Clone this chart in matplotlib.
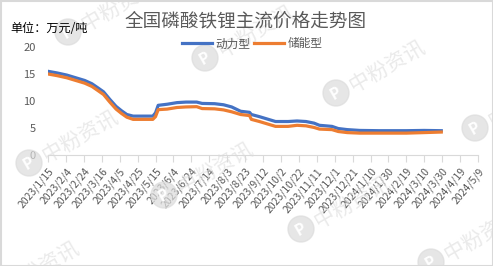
import matplotlib
matplotlib.use('Agg')
import matplotlib.pyplot as plt
from matplotlib.patches import Circle, Rectangle
import pandas as pd

plt.rcParams['font.family'] = ['Noto Sans CJK SC', 'DejaVu Sans']

# price data (万元/吨)
dates = ['2023-01-15', '2023-01-25', '2023-02-05', '2023-02-15', '2023-02-25',
         '2023-03-05', '2023-03-12', '2023-03-18', '2023-03-25', '2023-04-01',
         '2023-04-07', '2023-04-13', '2023-04-20', '2023-05-01', '2023-05-12',
         '2023-05-15', '2023-05-18', '2023-05-28', '2023-06-08', '2023-06-18',
         '2023-06-30', '2023-07-06', '2023-07-20', '2023-07-30', '2023-08-08',
         '2023-08-18', '2023-08-28', '2023-08-30', '2023-09-08', '2023-09-18',
         '2023-09-26', '2023-10-10', '2023-10-20', '2023-10-30', '2023-11-08',
         '2023-11-14', '2023-11-28', '2023-12-05', '2023-12-15', '2023-12-29',
         '2024-01-20', '2024-02-19', '2024-03-10', '2024-03-29']
power = [15.5, 15.2, 14.8, 14.3, 13.8,
         13.2, 12.4, 11.7, 10.3, 9.0,
         8.2, 7.5, 7.2, 7.2, 7.2,
         7.8, 9.2, 9.4, 9.7, 9.8,
         9.8, 9.55, 9.5, 9.3, 8.9,
         8.1, 7.9, 7.5, 7.1, 6.6,
         6.2, 6.2, 6.3, 6.2, 5.9,
         5.5, 5.3, 4.9, 4.7, 4.55,
         4.5, 4.5, 4.55, 4.5]
storage = [15.0, 14.7, 14.3, 13.8, 13.3,
           12.7, 11.9, 11.2, 9.8, 8.5,
           7.7, 7.0, 6.6, 6.6, 6.6,
           7.1, 8.4, 8.5, 8.8, 8.9,
           8.95, 8.6, 8.55, 8.35, 8.0,
           7.5, 7.3, 6.6, 6.2, 5.7,
           5.3, 5.3, 5.5, 5.4, 5.1,
           4.8, 4.7, 4.35, 4.15, 4.05,
           4.05, 4.05, 4.15, 4.25]

tick_dates = ['2023-01-15', '2023-02-04', '2023-02-24', '2023-03-16', '2023-04-05',
              '2023-04-25', '2023-05-15', '2023-06-04', '2023-06-24', '2023-07-14',
              '2023-08-03', '2023-08-23', '2023-09-12', '2023-10-02', '2023-10-22',
              '2023-11-11', '2023-12-01', '2023-12-21', '2024-01-10', '2024-01-30',
              '2024-02-19', '2024-03-10', '2024-03-30', '2024-04-19', '2024-05-09']
tick_labels = ['2023/1/15', '2023/2/4', '2023/2/24', '2023/3/16', '2023/4/5',
               '2023/4/25', '2023/5/15', '2023/6/4', '2023/6/24', '2023/7/14',
               '2023/8/3', '2023/8/23', '2023/9/12', '2023/10/2', '2023/10/22',
               '2023/11/11', '2023/12/1', '2023/12/21', '2024/1/10', '2024/1/30',
               '2024/2/19', '2024/3/10', '2024/3/30', '2024/4/19', '2024/5/9']

W, H = 493, 266
fig = plt.figure(figsize=(W / 100, H / 100), dpi=100)
ax = fig.add_axes([48 / W, 1 - 155 / H, 430 / W, 108 / H])

x = pd.to_datetime(dates)
ax.plot(x, power, color='#4472C4', lw=2.3, label='动力型', zorder=3)
ax.plot(x, storage, color='#ED7D31', lw=2.3, label='储能型', zorder=3)

ticks = pd.to_datetime(tick_dates)
ax.set_xlim(ticks[0], ticks[-1])
ax.set_ylim(0, 20)
ax.set_yticks([0, 5, 10, 15, 20])
ax.set_xticks(ticks)
ax.set_xticklabels(tick_labels, rotation=50, ha='right', va='top',
                   rotation_mode='anchor', fontsize=7.5, color='#595959')
ax.tick_params(axis='y', length=0, pad=9, labelsize=8, labelcolor='#595959')
ax.tick_params(axis='x', direction='out', length=5, color='#d9d9d9', pad=3)
for s in ['top', 'right', 'left']:
    ax.spines[s].set_visible(False)
ax.spines['bottom'].set_color('#d9d9d9')
ax.patch.set_alpha(0)

fig.text(246 / W, 1 - 21 / H, '全国磷酸铁锂主流价格走势图', ha='center', va='center',
         fontsize=13.4, color='#595959')
fig.text(10 / W, 1 - 29 / H, '单位：万元/吨', ha='left', va='center',
         fontsize=8.7, color='black')
fig.legend(loc='center', bbox_to_anchor=(252 / W, 1 - 44 / H), ncol=2,
           frameon=False, fontsize=8.4, labelcolor='#595959', handlelength=2.6,
           handletextpad=0.3, columnspacing=0.3, borderpad=0)

# watermarks
marks = [(68, 32), (205, 58), (336, 93), (475, 128),
         (29, 163), (164, 195), (301, 229), (431, 262), (-10, 294)]
for mx, my in marks:
    cx, cy = mx / W, 1 - my / H
    fig.patches.append(Circle((mx, H - my), 13, transform=None, color='#dcdcdc',
                              alpha=0.7, zorder=0))
    fig.text(cx, cy, 'P', ha='center', va='center', fontsize=11, color='white',
             fontweight='bold', rotation=30, zorder=0)
    fig.text(cx + 15 / W, cy + 6 / H, '中粉资讯', ha='left', va='center',
             fontsize=15, color='#dcdcdc', alpha=0.6, rotation=30,
             rotation_mode='anchor', zorder=0)

fig.patches.append(Rectangle((0.5, 0.5), W - 1, H - 1, transform=None, fill=False,
                             edgecolor='#d9d9d9', lw=1.5))

fig.savefig('out.png', dpi=100)
